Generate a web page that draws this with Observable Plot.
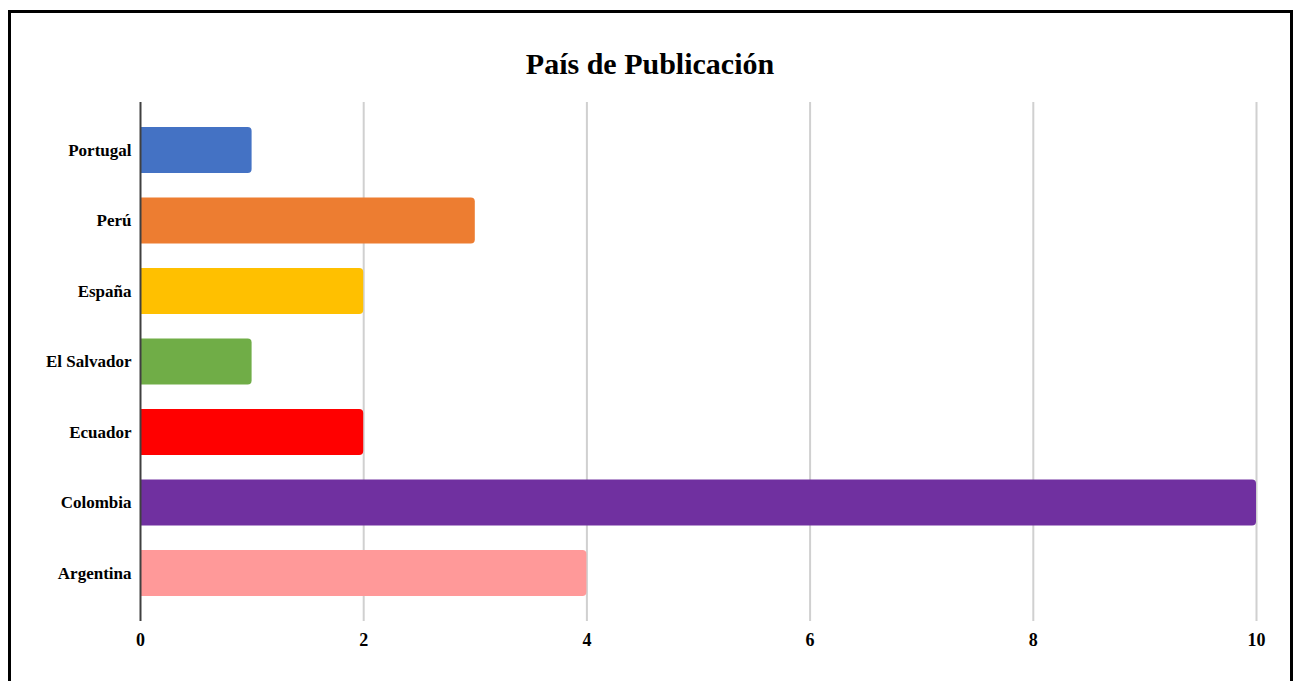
<!DOCTYPE html>
<html>
<head>
<meta charset="utf-8">
<script src="https://cdn.jsdelivr.net/npm/d3@7"></script>
<script src="https://cdn.jsdelivr.net/npm/@observablehq/plot@0.6"></script>
<style>
  html, body { margin: 0; padding: 0; background: #fff; overflow: hidden; }
  #frame { position: absolute; left: 8px; top: 10px; width: 1279px; height: 700px; border: 3px solid #000; box-sizing: content-box; }
  #title { position: absolute; left: 0; top: 46px; width: 1300px; text-align: center; font-family: "Liberation Serif", "Times New Roman", serif; font-weight: bold; font-size: 30px; line-height: 36px; color: #000; }
  #chart { position: absolute; left: 0; top: 0; }
  #chart svg text { font-family: "Liberation Serif", "Times New Roman", serif; font-size: 17px; font-weight: bold; fill: #000; }
  #chart svg g[aria-label="x-axis tick label"] text { font-size: 18px; }
</style>
</head>
<body>
<div id="frame"></div>
<div id="title">País de Publicación</div>
<div id="chart"></div>
<script>
const countries = ["Portugal", "Perú", "España", "El Salvador", "Ecuador", "Colombia", "Argentina"];
const counts = [1, 3, 2, 1, 2, 10, 4];
const colors = ["#4472C4", "#ED7D31", "#FFC000", "#70AD47", "#FF0000", "#7030A0", "#FF9999"];
const xTicks = [0, 2, 4, 6, 8, 10];

const data = countries.map((c, i) => ({country: c, value: counts[i], color: colors[i]}));

const chart = Plot.plot({
  width: 1298,
  height: 681,
  marginLeft: 140,
  marginRight: 42,
  marginTop: 102,
  marginBottom: 60,
  style: {fontFamily: "'Liberation Serif', 'Times New Roman', serif", fontSize: "17px", fontWeight: "bold", color: "#000", background: "transparent"},
  x: {domain: [0, 10], ticks: xTicks, tickSize: 0, tickPadding: 12, label: null},
  y: {domain: countries, paddingInner: 0.348, paddingOuter: 0.355, round: false, tickSize: 0, tickPadding: 9, label: null},
  marks: [
    Plot.ruleX(xTicks.filter(d => d > 0), {stroke: "#d0d0d0", strokeWidth: 2}),
    Plot.barX(data, {x1: 0, x2: "value", y: "country", fill: "color", rx: 4, insetLeft: -8, clip: true}),
    Plot.ruleX([0], {stroke: "#404040", strokeWidth: 2})
  ]
});
document.getElementById("chart").appendChild(chart);
</script>
</body>
</html>
